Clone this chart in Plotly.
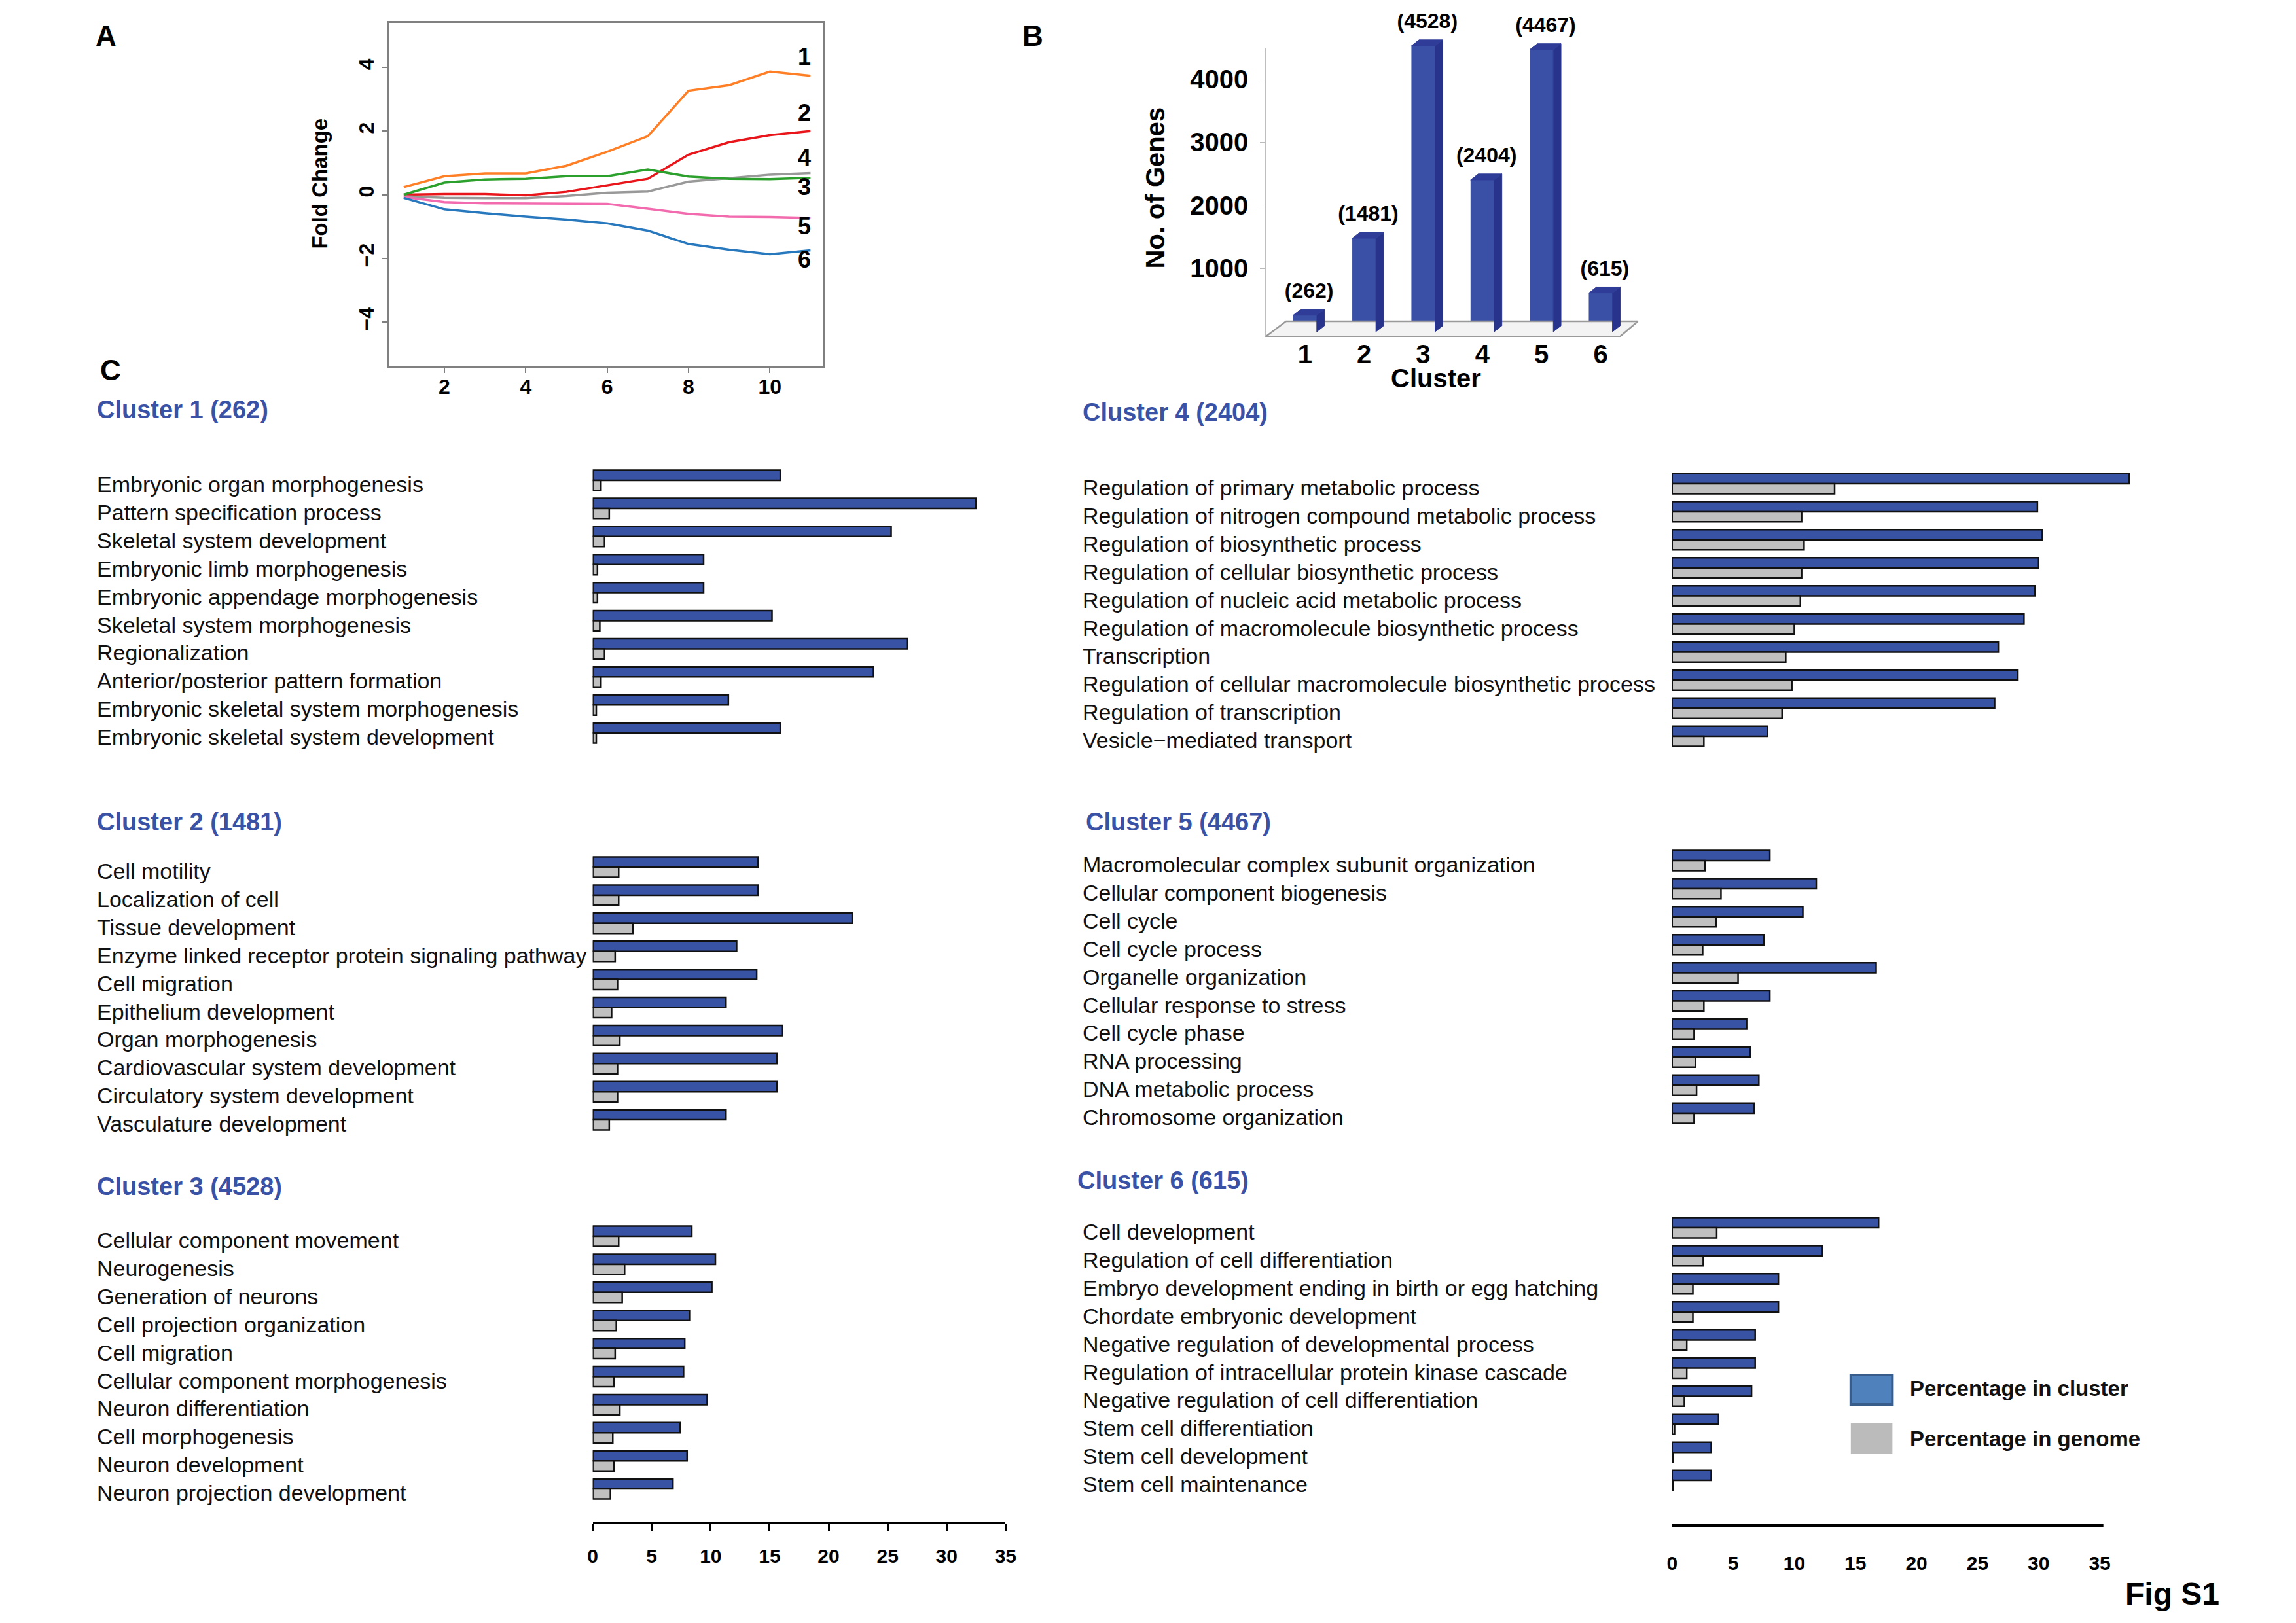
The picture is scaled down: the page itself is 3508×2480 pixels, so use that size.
import plotly.graph_objects as go

W, H = 3508, 2480
FONT = "Liberation Sans, Arial, sans-serif"


def dom_x(a, b):
    return [a / W, b / W]


def dom_y(top, bottom):
    return [1 - bottom / H, 1 - top / H]


def px(x):
    return x / W


def py(y):
    return 1 - y / H


# ---------------- Panel A: fold change profiles ----------------
time_points = [1, 2, 3, 4, 5, 6, 7, 8, 9, 10, 11]
fc_cluster1 = [0.24, 0.58, 0.67, 0.67, 0.91, 1.35, 1.84, 3.27, 3.44, 3.87, 3.74]
fc_cluster2 = [0.00, 0.02, 0.02, -0.02, 0.09, 0.29, 0.50, 1.26, 1.65, 1.87, 2.00]
fc_cluster3 = [-0.05, -0.10, -0.11, -0.11, -0.04, 0.06, 0.10, 0.41, 0.52, 0.63, 0.68]
fc_cluster4 = [0.00, 0.38, 0.48, 0.50, 0.58, 0.58, 0.79, 0.57, 0.50, 0.49, 0.53]
fc_cluster5 = [-0.07, -0.23, -0.27, -0.28, -0.29, -0.29, -0.44, -0.60, -0.69, -0.70, -0.73]
fc_cluster6 = [-0.10, -0.46, -0.58, -0.69, -0.78, -0.90, -1.13, -1.55, -1.73, -1.87, -1.75]
line_colors = ["#FF7F27", "#E8161B", "#999999", "#2CA02C", "#F26BAE", "#2878BE"]
line_label_text = ["1", "2", "3", "4", "5", "6"]
line_label_y = [4.26, 2.50, 0.17, 1.10, -1.06, -2.10]
fold_ticks = [-4, -2, 0, 2, 4]
time_ticks = [2, 4, 6, 8, 10]

# ---------------- Panel B: genes per cluster ----------------
clusters = [1, 2, 3, 4, 5, 6]
gene_counts = [262, 1481, 4528, 2404, 4467, 615]
count_ticks = [1000, 2000, 3000, 4000]

# ---------------- Panel C: GO terms ----------------
c1_terms = ["Embryonic organ morphogenesis", "Pattern specification process",
            "Skeletal system development", "Embryonic limb morphogenesis",
            "Embryonic appendage morphogenesis", "Skeletal system morphogenesis",
            "Regionalization", "Anterior/posterior pattern formation",
            "Embryonic skeletal system morphogenesis", "Embryonic skeletal system development"]
c1_cluster = [15.9, 32.5, 25.3, 9.4, 9.4, 15.2, 26.7, 23.8, 11.5, 15.9]
c1_genome = [0.7, 1.4, 1.0, 0.4, 0.4, 0.6, 1.0, 0.7, 0.3, 0.3]

c2_terms = ["Cell motility", "Localization of cell", "Tissue development",
            "Enzyme linked receptor protein signaling pathway", "Cell migration",
            "Epithelium development", "Organ morphogenesis",
            "Cardiovascular system development", "Circulatory system development",
            "Vasculature development"]
c2_cluster = [14.0, 14.0, 22.0, 12.2, 13.9, 11.3, 16.1, 15.6, 15.6, 11.3]
c2_genome = [2.2, 2.2, 3.4, 1.9, 2.1, 1.6, 2.3, 2.1, 2.1, 1.4]

c3_terms = ["Cellular component movement", "Neurogenesis", "Generation of neurons",
            "Cell projection organization", "Cell migration",
            "Cellular component morphogenesis", "Neuron differentiation",
            "Cell morphogenesis", "Neuron development", "Neuron projection development"]
c3_cluster = [8.4, 10.4, 10.1, 8.2, 7.8, 7.7, 9.7, 7.4, 8.0, 6.8]
c3_genome = [2.2, 2.7, 2.5, 2.0, 1.9, 1.8, 2.3, 1.7, 1.8, 1.5]

c4_terms = ["Regulation of primary metabolic process",
            "Regulation of nitrogen compound metabolic process",
            "Regulation of biosynthetic process",
            "Regulation of cellular biosynthetic process",
            "Regulation of nucleic acid metabolic process",
            "Regulation of macromolecule biosynthetic process",
            "Transcription",
            "Regulation of cellular macromolecule biosynthetic process",
            "Regulation of transcription", "Vesicle\u2212mediated transport"]
c4_cluster = [37.4, 29.9, 30.3, 30.0, 29.7, 28.8, 26.7, 28.3, 26.4, 7.8]
c4_genome = [13.3, 10.6, 10.8, 10.6, 10.5, 10.0, 9.3, 9.8, 9.0, 2.6]

c5_terms = ["Macromolecular complex subunit organization", "Cellular component biogenesis",
            "Cell cycle", "Cell cycle process", "Organelle organization",
            "Cellular response to stress", "Cell cycle phase", "RNA processing",
            "DNA metabolic process", "Chromosome organization"]
c5_cluster = [8.0, 11.8, 10.7, 7.5, 16.7, 8.0, 6.1, 6.4, 7.1, 6.7]
c5_genome = [2.7, 4.0, 3.6, 2.5, 5.4, 2.6, 1.8, 1.9, 2.0, 1.8]

c6_terms = ["Cell development", "Regulation of cell differentiation",
            "Embryo development ending in birth or egg hatching",
            "Chordate embryonic development",
            "Negative regulation of developmental process",
            "Regulation of intracellular protein kinase cascade",
            "Negative regulation of cell differentiation",
            "Stem cell differentiation", "Stem cell development", "Stem cell maintenance"]
c6_cluster = [16.9, 12.3, 8.7, 8.7, 6.8, 6.8, 6.5, 3.8, 3.2, 3.2]
c6_genome = [3.65, 2.55, 1.7, 1.7, 1.2, 1.2, 1.0, 0.2, 0.1, 0.1]

pct_ticks = [0, 5, 10, 15, 20, 25, 30, 35]
legend_names = ["Percentage in cluster", "Percentage in genome"]

BLUE = "#3953A4"
GRAY = "#C0C0C0"
HEAD_BLUE = "#3A52A6"

fig = go.Figure()

# ---- Panel A traces
for vals, col in zip([fc_cluster1, fc_cluster2, fc_cluster3, fc_cluster4, fc_cluster5, fc_cluster6],
                     line_colors):
    fig.add_trace(go.Scatter(x=time_points, y=vals, mode="lines",
                             line=dict(color=col, width=3.5),
                             xaxis="x", yaxis="y", showlegend=False, hoverinfo="skip"))
fig.add_trace(go.Scatter(x=[10.85] * len(line_label_y), y=line_label_y, text=line_label_text,
                         mode="text", textposition="middle center",
                         textfont=dict(family=FONT, size=36, color="black", weight="bold"),
                         xaxis="x", yaxis="y", showlegend=False, hoverinfo="skip"))

# ---- Panel B traces (pseudo-3D bars)
BAR_W, DX, DY = 0.4, 0.13, 95
floor_x = [clusters[0] - 0.67, clusters[-1] + 0.32, clusters[-1] + 0.63, clusters[0] - 0.32,
           clusters[0] - 0.67]
floor_y = [-82, -82, 165, 165, -82]
fig.add_trace(go.Scatter(x=floor_x, y=floor_y, mode="lines", fill="toself",
                         fillcolor="#F3F3F3", line=dict(color="#9A9A9A", width=2.5),
                         xaxis="x2", yaxis="y2", showlegend=False, hoverinfo="skip"))
fig.add_trace(go.Bar(x=clusters, y=gene_counts, width=BAR_W,
                     marker=dict(color="#3A50A6", line=dict(width=0)),
                     xaxis="x2", yaxis="y2", showlegend=False, hoverinfo="skip"))
side_x, side_y, top_x, top_y = [], [], [], []
for c, v in zip(clusters, gene_counts):
    l, r = c - BAR_W / 2, c + BAR_W / 2
    side_x += [r, r + DX, r + DX, r, r, None]
    side_y += [0, DY, v + DY, v, 0, None]
    top_x += [l, l + DX, r + DX, r, l, None]
    top_y += [v, v + DY, v + DY, v, v, None]
fig.add_trace(go.Scatter(x=side_x, y=side_y, mode="lines", fill="toself", fillcolor="#28338C",
                         line=dict(color="#28338C", width=1), xaxis="x2", yaxis="y2",
                         showlegend=False, hoverinfo="skip"))
fig.add_trace(go.Scatter(x=top_x, y=top_y, mode="lines", fill="toself", fillcolor="#2F3D98",
                         line=dict(color="#2F3D98", width=1), xaxis="x2", yaxis="y2",
                         showlegend=False, hoverinfo="skip"))
fig.add_trace(go.Scatter(x=[c + 0.07 for c in clusters], y=[v + 360 for v in gene_counts],
                         text=["(%d)" % v for v in gene_counts], mode="text",
                         textfont=dict(family=FONT, size=32, color="black", weight="bold"),
                         xaxis="x2", yaxis="y2", showlegend=False, hoverinfo="skip"))

# ---- Panel C traces
PITCH = 42.9
panels = [
    # terms, cluster %, genome %, column, first row centre (px), header y, header x
    (c1_terms, c1_cluster, c1_genome, 0, 726, 618, 131),
    (c2_terms, c2_cluster, c2_genome, 0, 1317, 1248, 131),
    (c3_terms, c3_cluster, c3_genome, 0, 1881, 1805, 131),
    (c4_terms, c4_cluster, c4_genome, 1, 731, 622, 1648),
    (c5_terms, c5_cluster, c5_genome, 1, 1307, 1248, 1653),
    (c6_terms, c6_cluster, c6_genome, 1, 1868, 1796, 1640),
]
col_xdom = [dom_x(896, 896 + 35 * 18.15), dom_x(2557, 2557 + 38 * 18.8)]
col_range = [[0, 35], [0, 38]]
col_label_x = [131, 1648]

annotations = []
layout_axes = {}
for i, (terms, vc, vg, col, first, head_y, head_x) in enumerate(panels):
    n = i + 3
    xa, ya = "x%d" % n, "y%d" % n
    fig.add_trace(go.Bar(y=terms, x=vc, orientation="h", name=legend_names[0],
                         marker=dict(color=BLUE, line=dict(color="#111111", width=2.5)),
                         xaxis=xa, yaxis=ya, showlegend=False, hoverinfo="skip"))
    fig.add_trace(go.Bar(y=terms, x=vg, orientation="h", name=legend_names[1],
                         marker=dict(color=GRAY, line=dict(color="#111111", width=2.5)),
                         xaxis=xa, yaxis=ya, showlegend=False, hoverinfo="skip"))
    top = first - PITCH / 2
    bottom = first + PITCH * (len(terms) - 1) + PITCH / 2
    layout_axes["yaxis%d" % n] = dict(domain=dom_y(top, bottom), anchor=xa, type="category",
                                      categoryorder="array", categoryarray=terms,
                                      range=[len(terms) - 0.5, -0.5], visible=False)
    layout_axes["xaxis%d" % n] = dict(domain=col_xdom[col], anchor=ya, range=col_range[col],
                                      visible=False)
    for t in terms:
        annotations.append(dict(text=t, xref="paper", yref=ya, x=px(col_label_x[col]), y=t,
                                xanchor="left", yanchor="middle", yshift=-6, showarrow=False,
                                font=dict(family=FONT, size=34, color="#111111")))
    annotations.append(dict(text="Cluster %d (%d)" % (i + 1, gene_counts[i]), xref="paper",
                            yref="paper", x=px(head_x), y=py(head_y), xanchor="left",
                            yanchor="middle", showarrow=False,
                            font=dict(family=FONT, size=38, color=HEAD_BLUE, weight="bold")))

# bottom axes of panel C
layout_axes["xaxis5"].update(visible=True, anchor="free", position=py(2318), showline=True,
                             linecolor="black", linewidth=3, ticks="outside", ticklen=11,
                             tickwidth=3, tickcolor="black", tickvals=pct_ticks,
                             showgrid=False, zeroline=False, ticklabelstandoff=13,
                             tickfont=dict(family=FONT, size=30, color="black", weight="bold"))
layout_axes["xaxis8"].update(visible=True, anchor="free", position=py(2323), showline=False,
                             ticks="", tickvals=pct_ticks, showgrid=False, zeroline=False,
                             ticklabelstandoff=37,
                             tickfont=dict(family=FONT, size=30, color="black", weight="bold"))

shapes = [
    dict(type="line", xref="x8", yref="paper", x0=-1.3, x1=35.3, y0=py(2323), y1=py(2323),
         line=dict(color="black", width=4)),
    dict(type="line", xref="x2", yref="y2", x0=0.33, x1=0.33, y0=-82, y1=4490,
         line=dict(color="#AAAAAA", width=2), layer="below"),
    # legend swatches
    dict(type="rect", xref="paper", yref="paper", x0=px(2832), x1=px(2896), y0=py(2138),
         y1=py(2093), fillcolor="#4F81BD", line=dict(color="#385D8A", width=4)),
    dict(type="rect", xref="paper", yref="paper", x0=px(2832), x1=px(2896), y0=py(2214),
         y1=py(2167), fillcolor="#BBBBBB", line=dict(width=0)),
]
for name, yy in zip(legend_names, [2113, 2190]):
    annotations.append(dict(text=name, xref="paper", yref="paper", x=px(2921), y=py(yy),
                            xanchor="left", yanchor="middle", showarrow=False,
                            font=dict(family=FONT, size=33, color="#111111", weight="bold")))


def label(text, x, y, size, angle=0, xanchor="center", yanchor="middle"):
    return dict(text=text, xref="paper", yref="paper", x=px(x), y=py(y), textangle=angle,
                xanchor=xanchor, yanchor=yanchor, showarrow=False,
                font=dict(family=FONT, size=size, color="black", weight="bold"))


annotations += [
    label("Fold Change", 475, 273, 33, angle=-90),
    label("No. of Genes", 1762, 279, 40, angle=-90),
    label("Cluster", 2194, 570, 40),
    label("A", 147, 47, 44),
    label("B", 1573, 47, 44),
    label("C", 154, 557, 44),
    label("Fig S1", 3327, 2456, 48, yanchor="bottom"),
]

fig.update_layout(
    width=W, height=H, margin=dict(l=0, r=0, t=0, b=0),
    paper_bgcolor="white", plot_bgcolor="white",
    font=dict(family=FONT, color="black"),
    barmode="group", bargap=0.28, bargroupgap=0,
    showlegend=False,
    xaxis=dict(domain=dom_x(582, 1250), anchor="y", range=[0.63, 11.3], tickvals=time_ticks,
               showline=True, mirror=True, linecolor="#808080", linewidth=2.5,
               ticks="outside", ticklen=7, tickwidth=2, tickcolor="#808080",
               showgrid=False, zeroline=False, ticklabelstandoff=-6,
               tickfont=dict(family=FONT, size=32, color="black", weight="bold")),
    yaxis=dict(domain=dom_y(27, 552), anchor="x", range=[-5.4, 5.4], tickvals=fold_ticks,
               showline=True, mirror=True, linecolor="#808080", linewidth=2.5,
               ticks="outside", ticklen=7, tickwidth=2, tickcolor="#808080", tickangle=-90,
               showgrid=False, zeroline=False,
               tickfont=dict(family=FONT, size=32, color="black", weight="bold")),
    xaxis2=dict(domain=dom_x(1931, 2533), anchor="y2", range=[0.33, 6.945], tickvals=clusters,
                ticktext=[str(c) for c in clusters], showline=False, showgrid=False,
                zeroline=False, ticks="", ticklabelstandoff=-1,
                tickfont=dict(family=FONT, size=40, color="black", weight="bold")),
    yaxis2=dict(domain=dom_y(13, 507), anchor="x2", range=[-83, 5036], tickvals=count_ticks,
                showline=False, showgrid=False, zeroline=False, ticks="outside", ticklen=7,
                tickcolor="#BBBBBB", ticklabelstandoff=10,
                tickfont=dict(family=FONT, size=40, color="black", weight="bold")),
    annotations=annotations,
    shapes=shapes,
    **layout_axes,
)

fig.write_html("out.html")
